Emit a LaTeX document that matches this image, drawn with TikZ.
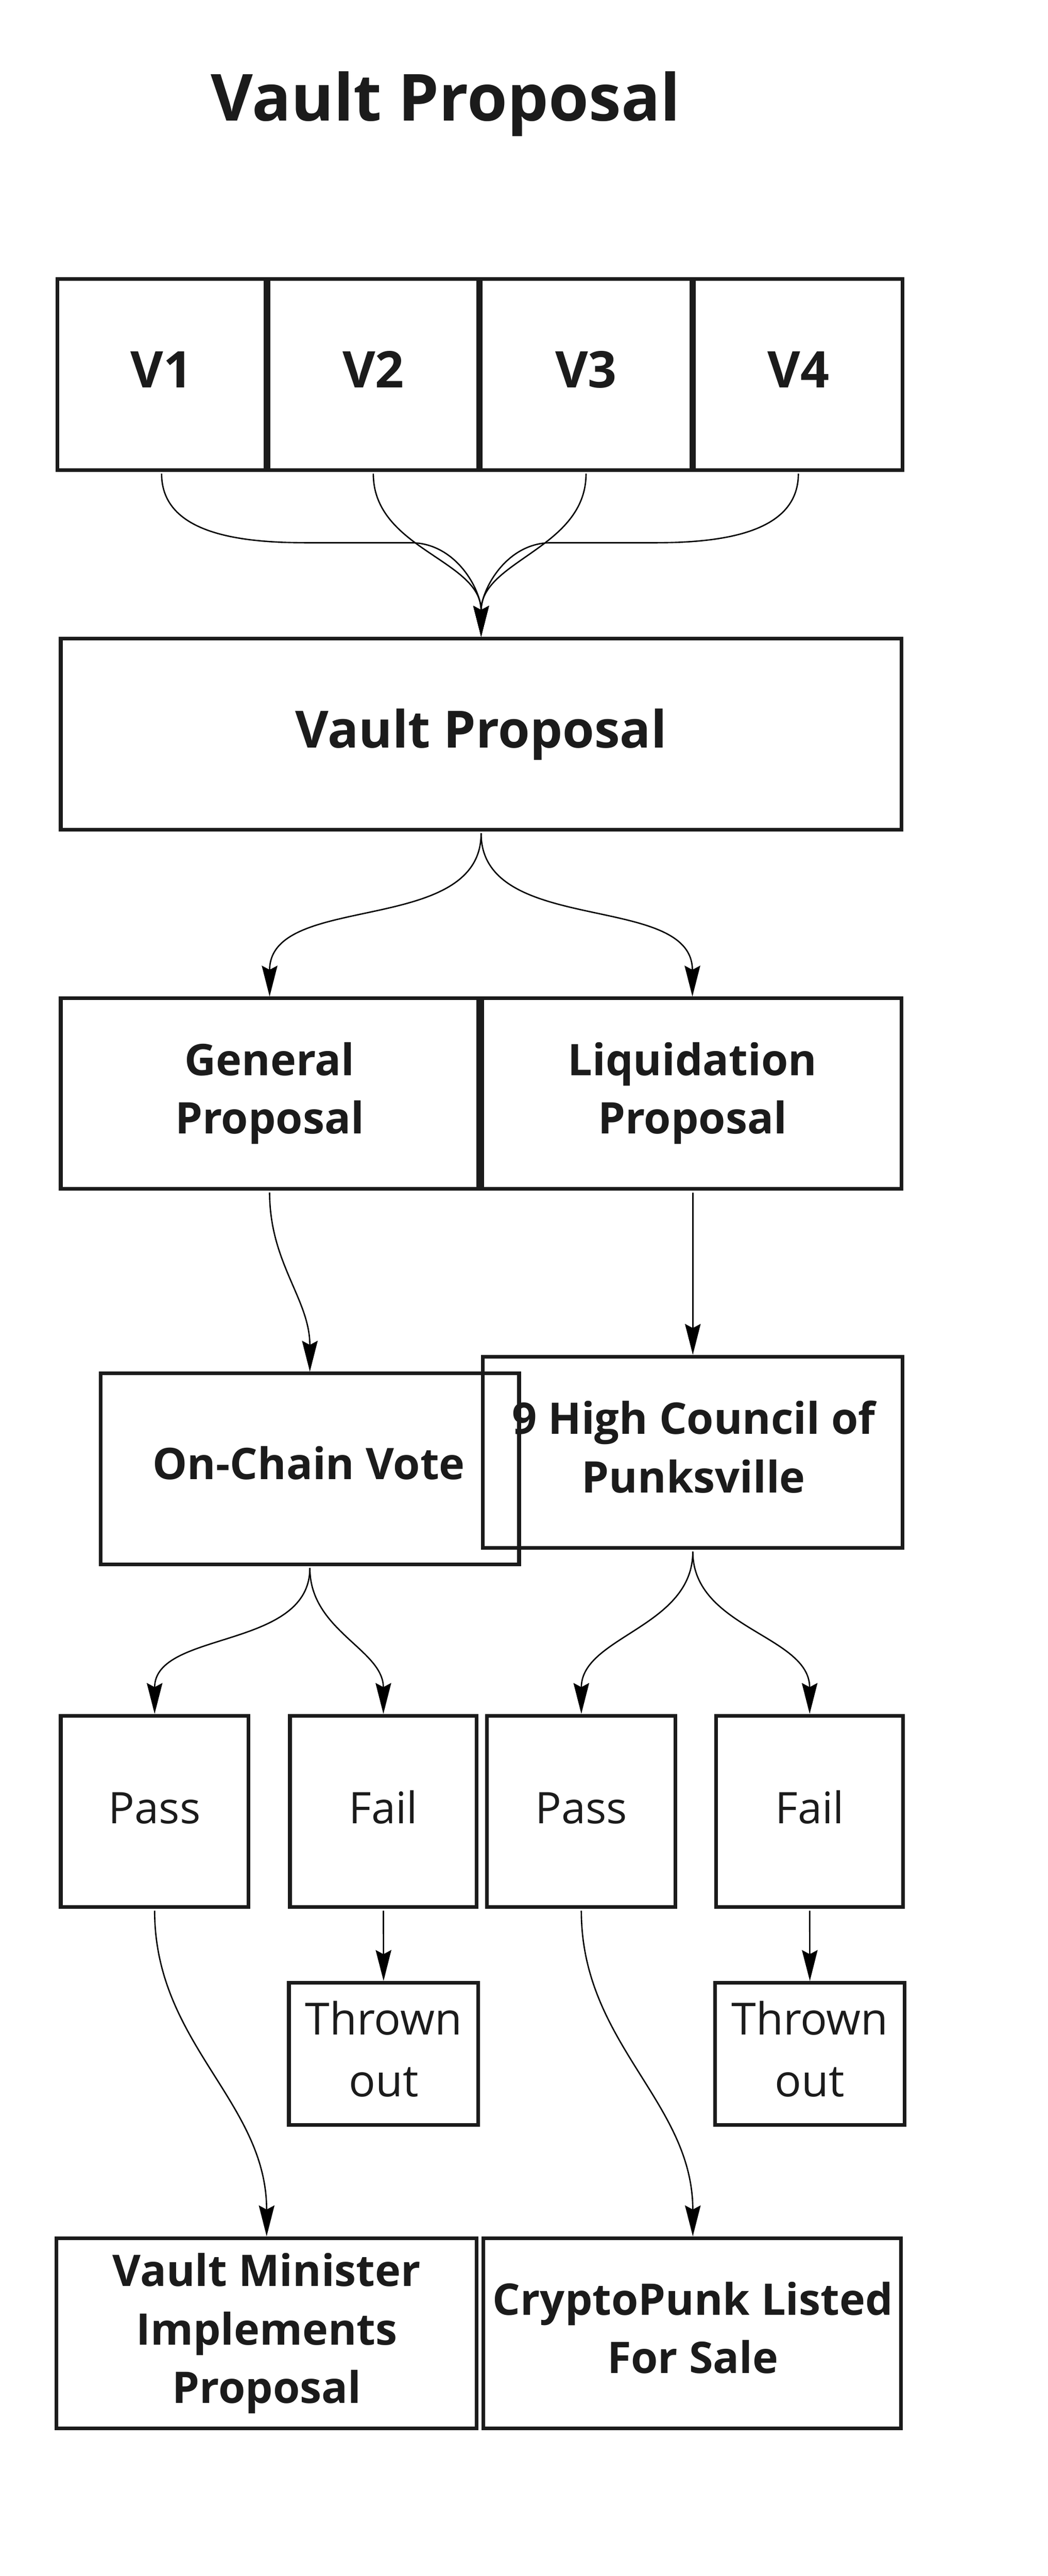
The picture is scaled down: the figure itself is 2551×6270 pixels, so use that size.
\documentclass[tikz,border=0pt]{standalone}
\usepackage{fontspec}
\setmainfont{Open Sans}
\usetikzlibrary{arrows.meta}
\definecolor{ink}{RGB}{27,27,27}
\begin{document}
\begin{tikzpicture}[x=1pt,y=-1pt,
  box/.style={draw=ink, line width=9pt, inner sep=0pt, fill=none},
  lblB/.style={text=ink, inner sep=0pt, align=center, anchor=base, font=\fontsize{106}{141}\selectfont\bfseries},
  lblR/.style={text=ink, inner sep=0pt, align=center, anchor=base, font=\fontsize{106}{148}\selectfont},
  conn/.style={draw=black, line width=3.3pt, shorten <=4pt, -{Stealth[length=75pt,width=38pt,inset=10pt]}}]
\useasboundingbox[fill=white] (0,0) rectangle (2551,6270);

% title
\node[text=ink, inner sep=0pt, anchor=base, font=\fontsize{158}{190}\selectfont\bfseries] (title) at (1085,294) {Vault Proposal};

% V boxes
\node[box, minimum width=507pt, minimum height=465pt] (v1) at (393.5,912) {};
\node[box, minimum width=510pt, minimum height=465pt] (v2) at (909,912) {};
\node[box, minimum width=512pt, minimum height=465pt] (v3) at (1427,912) {};
\node[box, minimum width=508pt, minimum height=465pt] (v4) at (1944,912) {};
\node[lblB, font=\fontsize{123}{150}\selectfont\bfseries] (tv1) at (393.5,944) {V1};
\node[lblB, font=\fontsize{123}{150}\selectfont\bfseries] (tv2) at (909,944) {V2};
\node[lblB, font=\fontsize{123}{150}\selectfont\bfseries] (tv3) at (1427,944) {V3};
\node[lblB, font=\fontsize{123}{150}\selectfont\bfseries] (tv4) at (1944,944) {V4};

% vault proposal
\node[box, minimum width=2047pt, minimum height=465.5pt] (vp) at (1171.5,1787) {};
\node[lblB, font=\fontsize{125}{150}\selectfont\bfseries] (tvp) at (1171.5,1820) {Vault Proposal};

% general / liquidation (anchor base = last line's baseline)
\node[box, minimum width=1017pt, minimum height=464pt] (gp) at (656.5,2662) {};
\node[box, minimum width=1021pt, minimum height=464pt] (lp) at (1684.5,2662) {};
\node[lblB] (tgp) at (656.5,2759) {General\\Proposal};
\node[lblB] (tlp) at (1686,2759) {Liquidation\\Proposal};

% council and on-chain vote
\node[box, minimum width=1022pt, minimum height=466pt] (hc) at (1687,3535) {};
\node[lblB, font=\fontsize{106}{143}\selectfont\bfseries] (thc) at (1689,3634) {9 High Council of\\Punksville};
\node[box, minimum width=1019pt, minimum height=465pt] (ocv) at (754.5,3575.5) {};
\node[lblB] (tocv) at (752,3601) {On-Chain Vote};

% pass / fail
\node[box, minimum width=457pt, minimum height=466pt] (p1) at (376.5,4409) {};
\node[box, minimum width=455pt, minimum height=466pt] (f1) at (933.5,4409) {};
\node[box, minimum width=459pt, minimum height=466pt] (p2) at (1415.5,4409) {};
\node[box, minimum width=455pt, minimum height=466pt] (f2) at (1971.5,4409) {};
\node[lblR] (tp1) at (376.5,4438) {Pass};
\node[lblR] (tf1) at (933.5,4438) {Fail};
\node[lblR] (tp2) at (1415.5,4438) {Pass};
\node[lblR] (tf2) at (1971.5,4438) {Fail};

% thrown out
\node[box, minimum width=461pt, minimum height=346pt] (t1) at (934,4999) {};
\node[box, minimum width=461pt, minimum height=346pt] (t2) at (1972,4999) {};
\node[lblR, font=\fontsize{108}{151}\selectfont] (tt1) at (934,5103) {Thrown\\out};
\node[lblR, font=\fontsize{108}{151}\selectfont] (tt2) at (1972,5103) {Thrown\\out};

% bottom
\node[box, minimum width=1023.5pt, minimum height=463pt] (vm) at (649.25,5679) {};
\node[box, minimum width=1017pt, minimum height=463pt] (cp) at (1685.5,5679) {};
\node[lblB, font=\fontsize{106}{142}\selectfont\bfseries] (tvm) at (649.5,5849) {Vault Minister\\Implements\\Proposal};
\node[lblB, font=\fontsize{106}{142}\selectfont\bfseries] (tcp) at (1687,5777) {CryptoPunk Listed\\For Sale};

% waypoints
\coordinate (w1a) at (748,1321);
\coordinate (w1b) at (1000,1321);
\coordinate (w4a) at (1594,1321);
\coordinate (w4b) at (1342,1321);

% connectors
\draw[conn] (v1.south) to[out=-90,in=180] (w1a) -- (w1b) to[out=0,in=90] (vp.north);
\draw[conn] (v2.south) to[out=-90,in=90] (vp.north);
\draw[conn] (v3.south) to[out=-90,in=90] (vp.north);
\draw[conn] (v4.south) to[out=-90,in=0] (w4a) -- (w4b) to[out=180,in=90] (vp.north);

\draw[conn] (vp.south) to[out=-90,in=90] (gp.north);
\draw[conn] (vp.south) to[out=-90,in=90] (lp.north -| tlp.base);

\draw[conn] (gp.south) to[out=-90,in=90] (ocv.north);
\draw[conn] (hc.north |- lp.south) -- (hc.north);

\draw[conn] (ocv.south) to[out=-90,in=90] (p1.north);
\draw[conn] (ocv.south) to[out=-90,in=90] (f1.north);
\draw[conn] (hc.south) to[out=-90,in=90] (p2.north);
\draw[conn] (hc.south) to[out=-90,in=90] (f2.north);

\draw[conn] (f1.south) -- (t1.north);
\draw[conn] (f2.south) -- (t2.north);

\draw[conn] (p1.south) to[out=-90,in=90] (vm.north);
\draw[conn] (p2.south) to[out=-90,in=90] (cp.north -| tcp.base);
\end{tikzpicture}
\end{document}
